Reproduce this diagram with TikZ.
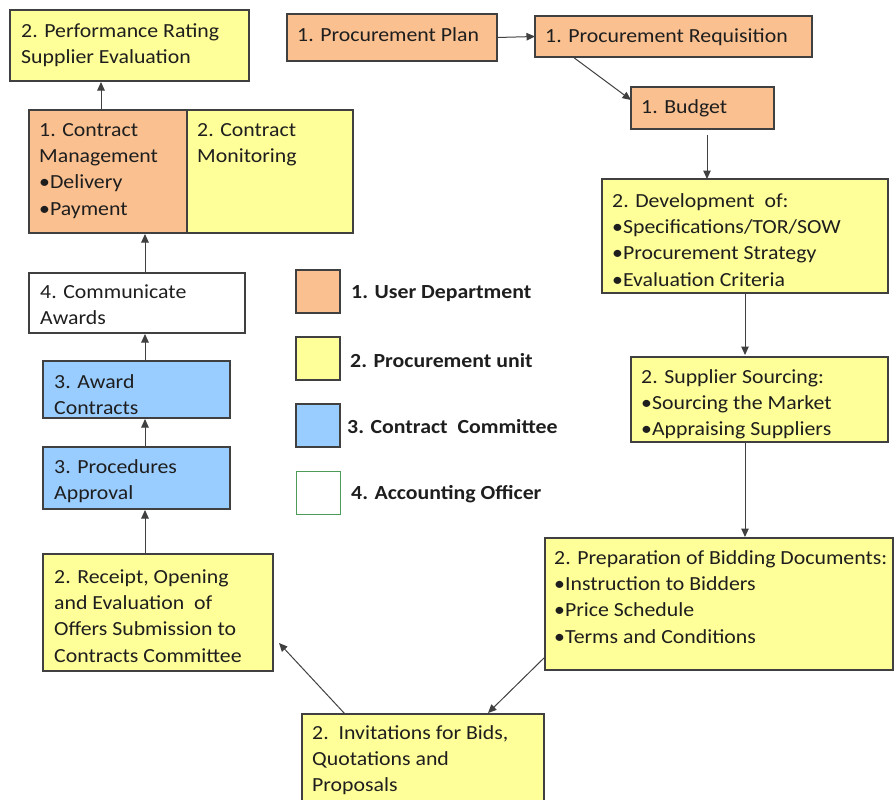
\documentclass[tikz,border=0pt]{standalone}
\usepackage{fontspec}
\setmainfont[FakeStretch=1.09]{Carlito}
\usetikzlibrary{arrows.meta}
\definecolor{orangec}{HTML}{FAC090}
\definecolor{yellowc}{HTML}{FFFF99}
\definecolor{bluec}{HTML}{99CCFF}
\definecolor{edgec}{HTML}{404040}
\definecolor{textc}{HTML}{1E1E1E}
\definecolor{greenc}{HTML}{4E9A58}
\tikzset{
  box/.style={draw=edgec, line width=1.1pt, inner sep=0pt, outer sep=0pt, anchor=north west},
  obox/.style={box, fill=orangec},
  ybox/.style={box, fill=yellowc},
  bbox/.style={box, fill=bluec},
  wbox/.style={box, fill=white},
  txt/.style={anchor=north west, inner sep=0pt, align=left, text=textc,
    font=\fontsize{20}{26.3}\selectfont},
  legtxt/.style={anchor=base west, inner sep=0pt, text=textc,
    font=\fontsize{20}{24}\selectfont\bfseries},
  conn/.style={draw=edgec, line width=1pt, -{Triangle[length=8.5pt,width=7.5pt]}},
}
\begin{document}
\begin{tikzpicture}[x=1pt,y=-1pt]
\useasboundingbox (0,0) rectangle (894,800);
\clip (0,0) rectangle (894,800);
% boxes
\node[ybox, minimum width=239pt, minimum height=71pt] (perf) at (10,10) {};
\node[obox, minimum width=158pt, minimum height=123pt] (cml) at (29,110) {};
\node[ybox, minimum width=166pt, minimum height=123pt] (cmr) at (187,110) {};
\node[wbox, minimum width=216pt, minimum height=60pt] (comm) at (29,273) {};
\node[bbox, minimum width=187pt, minimum height=57pt] (award) at (43,361) {};
\node[bbox, minimum width=187pt, minimum height=62pt] (proc) at (43,447) {};
\node[ybox, minimum width=230pt, minimum height=117pt] (rec) at (43,554) {};
\node[obox, minimum width=210pt, minimum height=47pt] (plan) at (287,14) {};
\node[obox, minimum width=277pt, minimum height=41pt] (req) at (535,16) {};
\node[obox, minimum width=143pt, minimum height=42pt] (budget) at (631,87) {};
\node[ybox, minimum width=286pt, minimum height=114pt] (dev) at (602,179) {};
\node[ybox, minimum width=257pt, minimum height=85pt] (src) at (631,357) {};
\node[ybox, minimum width=348pt, minimum height=132pt] (prep) at (545,538) {};
\node[ybox, minimum width=242pt, minimum height=110pt] (inv) at (302,714) {};
% texts
\node[txt] (perf-t) at (21,18.6) {\strut 2. Performance Rating\\Supplier Evaluation};
\node[txt] (cml-t) at (39,117.6) {\strut 1. Contract\\Management\\•Delivery\\•Payment};
\node[txt] (cmr-t) at (197,117.6) {\strut 2. Contract\\Monitoring};
\node[txt] (comm-t) at (40,279.6) {\strut 4. Communicate\\Awards};
\node[txt] (award-t) at (54,369.6) {\strut 3. Award\\Contracts};
\node[txt] (proc-t) at (54,454.6) {\strut 3. Procedures\\Approval};
\node[txt] (rec-t) at (54,564.6) {\strut 2. Receipt, Opening\\and Evaluation\ \ of\\Offers Submission to\\Contracts Committee};
\node[txt] (plan-t) at (297,22.6) {\strut 1. Procurement Plan};
\node[txt] (req-t) at (545,23.6) {\strut 1. Procurement Requisition};
\node[txt] (budget-t) at (641,94.6) {\strut 1. Budget};
\node[txt] (dev-t) at (612,188.6) {\strut 2. Development\ \ of:\\•Specifications/TOR/SOW\\•Procurement Strategy\\•Evaluation Criteria};
\node[txt] (src-t) at (641,364.6) {\strut 2. Supplier Sourcing:\\•Sourcing the Market\\•Appraising Suppliers};
\node[txt] (prep-t) at (554,545.6) {\strut 2. Preparation of Bidding Documents:\\•Instruction to Bidders\\•Price Schedule\\•Terms and Conditions};
\node[txt] (inv-t) at (312,720.6) {\strut 2.\ \ Invitations for Bids,\\Quotations and\\Proposals};
% legend
\node[obox, minimum width=44pt, minimum height=43pt] (leg1) at (296,270) {};
\node[ybox, minimum width=44pt, minimum height=43pt] (leg2) at (296,337) {};
\node[bbox, minimum width=44pt, minimum height=43pt] (leg3) at (296,404) {};
\node[box, draw=greenc, line width=0.9pt, fill=white, minimum width=44pt, minimum height=43pt] (leg4) at (296,471) {};
\node[legtxt] (leg1-t) at (351,298) {1. User Department};
\node[legtxt] (leg2-t) at (350,367) {2. Procurement unit};
\node[legtxt] (leg3-t) at (347,433) {3. Contract\ \ Committee};
\node[legtxt] (leg4-t) at (351,499) {4. Accounting Officer};
% connectors
\draw[conn] (plan.east) -- (req.west);
\draw[conn] ([xshift=38pt]req.south west) -- ([yshift=8pt]budget.west);
\draw[conn] ([xshift=76pt,yshift=-6pt]budget.south west) -- ([xshift=105pt]dev.north west);
\draw[conn] ([xshift=143pt]dev.south west) -- ([xshift=114pt,yshift=2pt]src.north west);
\draw[conn] ([xshift=114pt]src.south west) -- ([xshift=200pt,yshift=1pt]prep.north west);
\draw[conn] ([yshift=13pt]prep.south west) -- ([xshift=186pt,yshift=1pt]inv.north west);
\draw[conn] ([xshift=43pt]inv.north west) -- ([xshift=6pt,yshift=28pt]rec.south east);
\draw[conn] ([xshift=102pt]rec.north west) -- ([xshift=102pt,yshift=-1pt]proc.south west);
\draw[conn] ([xshift=102pt]proc.north west) -- ([xshift=102pt,yshift=-1pt]award.south west);
\draw[conn] ([xshift=102pt]award.north west) -- ([xshift=116pt,yshift=-1pt]comm.south west);
\draw[conn] ([xshift=116pt]comm.north west) -- ([xshift=116pt,yshift=-1pt]cml.south west);
\draw[conn] ([xshift=72pt]cml.north west) -- ([xshift=91pt,yshift=-1pt]perf.south west);
\end{tikzpicture}
\end{document}
